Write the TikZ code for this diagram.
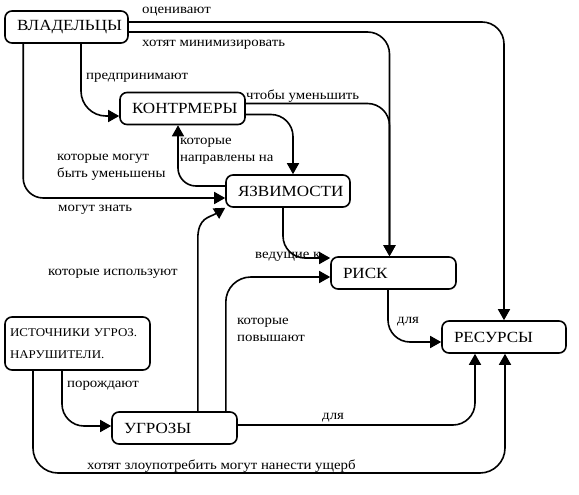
\documentclass[tikz,border=0pt]{standalone}
\usepackage{fontspec}
\setmainfont{Liberation Serif}[FakeStretch=1.1]
\usetikzlibrary{arrows.meta,calc}
\begin{document}
\begin{tikzpicture}[x=1pt,y=-1pt,
  box/.style={draw,line width=1.6pt,rounded corners=7pt,minimum height=32pt,inner xsep=12pt,inner ysep=0pt,align=left,font=\fontsize{15.5}{21}\selectfont},
  conn/.style={line width=1.6pt,-{Triangle[length=11pt,width=12pt]},rounded corners=22pt},
  lbl/.style={anchor=west,inner sep=0pt,font=\fontsize{13.5}{17}\selectfont,align=left}]
\useasboundingbox (0,0) rectangle (579,495);
% boxes
\node[box,text width=99pt] (vlad) at (66.5,27) {ВЛАДЕЛЬЦЫ};
\node[box,text width=101pt] (kontr) at (182.5,108.5) {КОНТРМЕРЫ};
\node[box,text width=100pt] (yazv) at (288,191) {ЯЗВИМОСТИ};
\node[box,text width=101pt] (risk) at (393.5,273) {РИСК};
\node[box,text width=100pt] (res) at (504,337) {РЕСУРСЫ};
\node[box,text width=135pt,inner xsep=5pt,minimum height=53pt,font=\fontsize{11.8}{22}\selectfont] (ist) at (77.5,343.5) {ИСТОЧНИКИ УГРОЗ.\\НАРУШИТЕЛИ.};
\node[box,text width=101pt] (ugr) at (174.5,428) {УГРОЗЫ};
\coordinate (bottomturn) at (505,473);
% connectors
\draw[conn] ([yshift=5pt]vlad.east) -| (res.north);
\draw[conn] ([yshift=-5pt]vlad.east) -| ([xshift=-4pt]risk.north);
\draw[conn] ([yshift=5pt]kontr.east) -| ([xshift=-4pt]risk.north);
\draw[conn] ([yshift=-6pt]kontr.east) -| ([xshift=5pt]yazv.north);
\draw[conn,rounded corners=18pt] ([yshift=5pt]yazv.west) -| ([xshift=-4.5pt]kontr.south);
\draw[conn,rounded corners=20pt] ([xshift=19pt]vlad.south west) |- ([yshift=-7pt]yazv.west);
\draw[conn,rounded corners=25pt] ([xshift=14.5pt]vlad.south) |- ([yshift=-7.5pt]kontr.west);
\draw[conn] ([xshift=-5pt]yazv.south) |- ([yshift=15pt]risk.west);
\draw[conn] ([xshift=-5.5pt]risk.south) |- ([yshift=-5pt]res.west);
\draw[conn] ([xshift=-15.5pt]ist.south) |- ([yshift=2pt]ugr.west);
\draw[conn,rounded corners=25pt] ([xshift=-44.5pt]ist.south) |- (bottomturn) -- (bottomturn |- res.south);
\draw[conn] ([yshift=3pt]ugr.east) -| ([xshift=-29pt]res.south);
\draw[conn,rounded corners=25pt] ([xshift=-12pt]ugr.north east) |- ([yshift=-4pt]risk.west);
\draw[line width=1.6pt,-{Triangle[length=11pt,width=12pt]}] ([xshift=-40pt]ugr.north east) -- ++(0,-172) .. controls +(0,-22) and +(-16,10) .. (yazv.south west);
% labels
\node[lbl] (l1) at (142,12) {оценивают};
\node[lbl] (l2) at (142,45) {хотят минимизировать};
\node[lbl] (l3) at (86,78) {предпринимают};
\node[lbl] (l4) at (246,96) {чтобы уменьшить};
\node[lbl] (l5) at (57,167) {которые могут\\быть уменьшены};
\node[lbl] (l6) at (180,151) {которые\\направлены на};
\node[lbl] (l7) at (58,210) {могут знать};
\node[lbl] (l8) at (255,257) {ведущие к};
\node[lbl] (l9) at (48,274) {которые используют};
\node[lbl] (l10) at (237,330) {которые\\повышают};
\node[lbl] (l11) at (397,322) {для};
\node[lbl] (l12) at (67,386) {порождают};
\node[lbl] (l13) at (322,418) {для};
\node[lbl] (l14) at (87,466) {хотят злоупотребить могут нанести ущерб};
\end{tikzpicture}
\end{document}
